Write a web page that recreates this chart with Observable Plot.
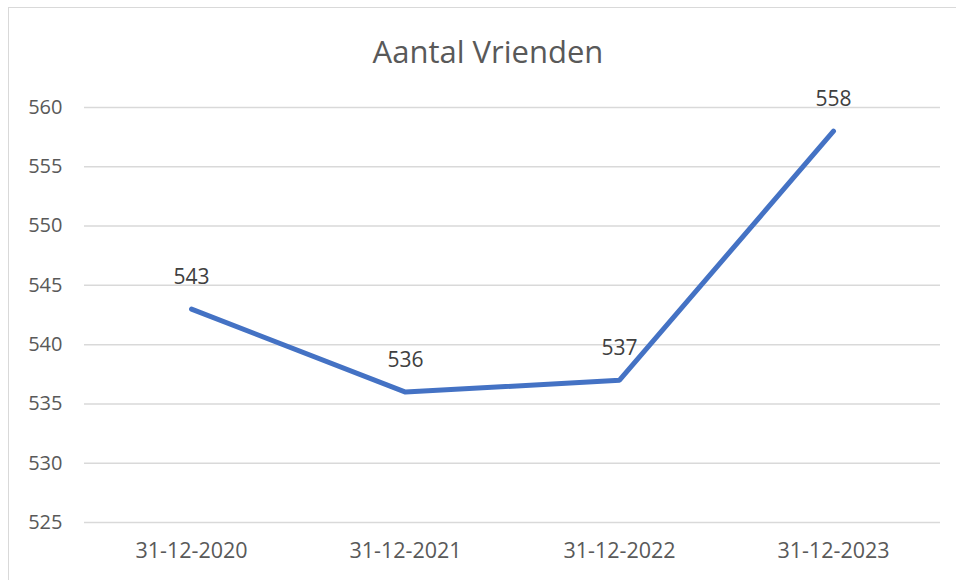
<!DOCTYPE html>
<html>
<head>
<meta charset="utf-8">
<script src="https://cdn.jsdelivr.net/npm/d3@7"></script>
<script src="https://cdn.jsdelivr.net/npm/@observablehq/plot@0.6"></script>
<style>
  html, body { margin: 0; padding: 0; background: #fff; }
  #wrap { position: relative; width: 956px; height: 580px; overflow: hidden; font-family: "Open Sans", sans-serif; }
  #frame { position: absolute; left: 8px; top: 7px; width: 1000px; height: 1000px; border: 1.5px solid #d9d9d9; box-sizing: border-box; pointer-events: none; }
  #title { height: 80px; box-sizing: border-box; padding-top: 32px; text-align: center; font-size: 31px; line-height: 38px; color: #595959; padding-left: 20px; }
</style>
</head>
<body>
<div id="wrap">
  <div id="frame"></div>
  <div id="title">Aantal Vrienden</div>
  <div id="chart"></div>
</div>
<script>
const dates = ["31-12-2020", "31-12-2021", "31-12-2022", "31-12-2023"];
const friends = [543, 536, 537, 558];
const yTicks = [525, 530, 535, 540, 545, 550, 555, 560];

const data = dates.map((d, i) => ({date: d, value: friends[i]}));

const chart = Plot.plot({
  width: 956,
  height: 500,
  marginLeft: 84,
  marginRight: 16,
  marginTop: 27,
  marginBottom: 58,
  style: {fontFamily: "'Open Sans', sans-serif", fontSize: "20px", color: "#595959", background: "transparent", overflow: "visible"},
  x: {type: "point", domain: dates, padding: 0.5, label: null},
  y: {domain: [525, 560], label: null},
  marks: [
    Plot.ruleY(yTicks, {stroke: "#d9d9d9", strokeWidth: 1.5, strokeOpacity: 1}),
    Plot.axisY({ticks: yTicks, tickSize: 0, tickPadding: 22, fontSize: 20, fill: "#595959", label: null}),
    Plot.axisX({tickSize: 0, tickPadding: 20, fontSize: 21.5, fill: "#595959", label: null}),
    Plot.line(data, {x: "date", y: "value", stroke: "#4472C4", strokeWidth: 5, strokeLinecap: "round", strokeLinejoin: "round"}),
    Plot.text(data, {x: "date", y: "value", text: d => String(d.value), dy: -32, fontSize: 21, fill: "#404040"})
  ]
});
document.getElementById("chart").appendChild(chart);
</script>
</body>
</html>
